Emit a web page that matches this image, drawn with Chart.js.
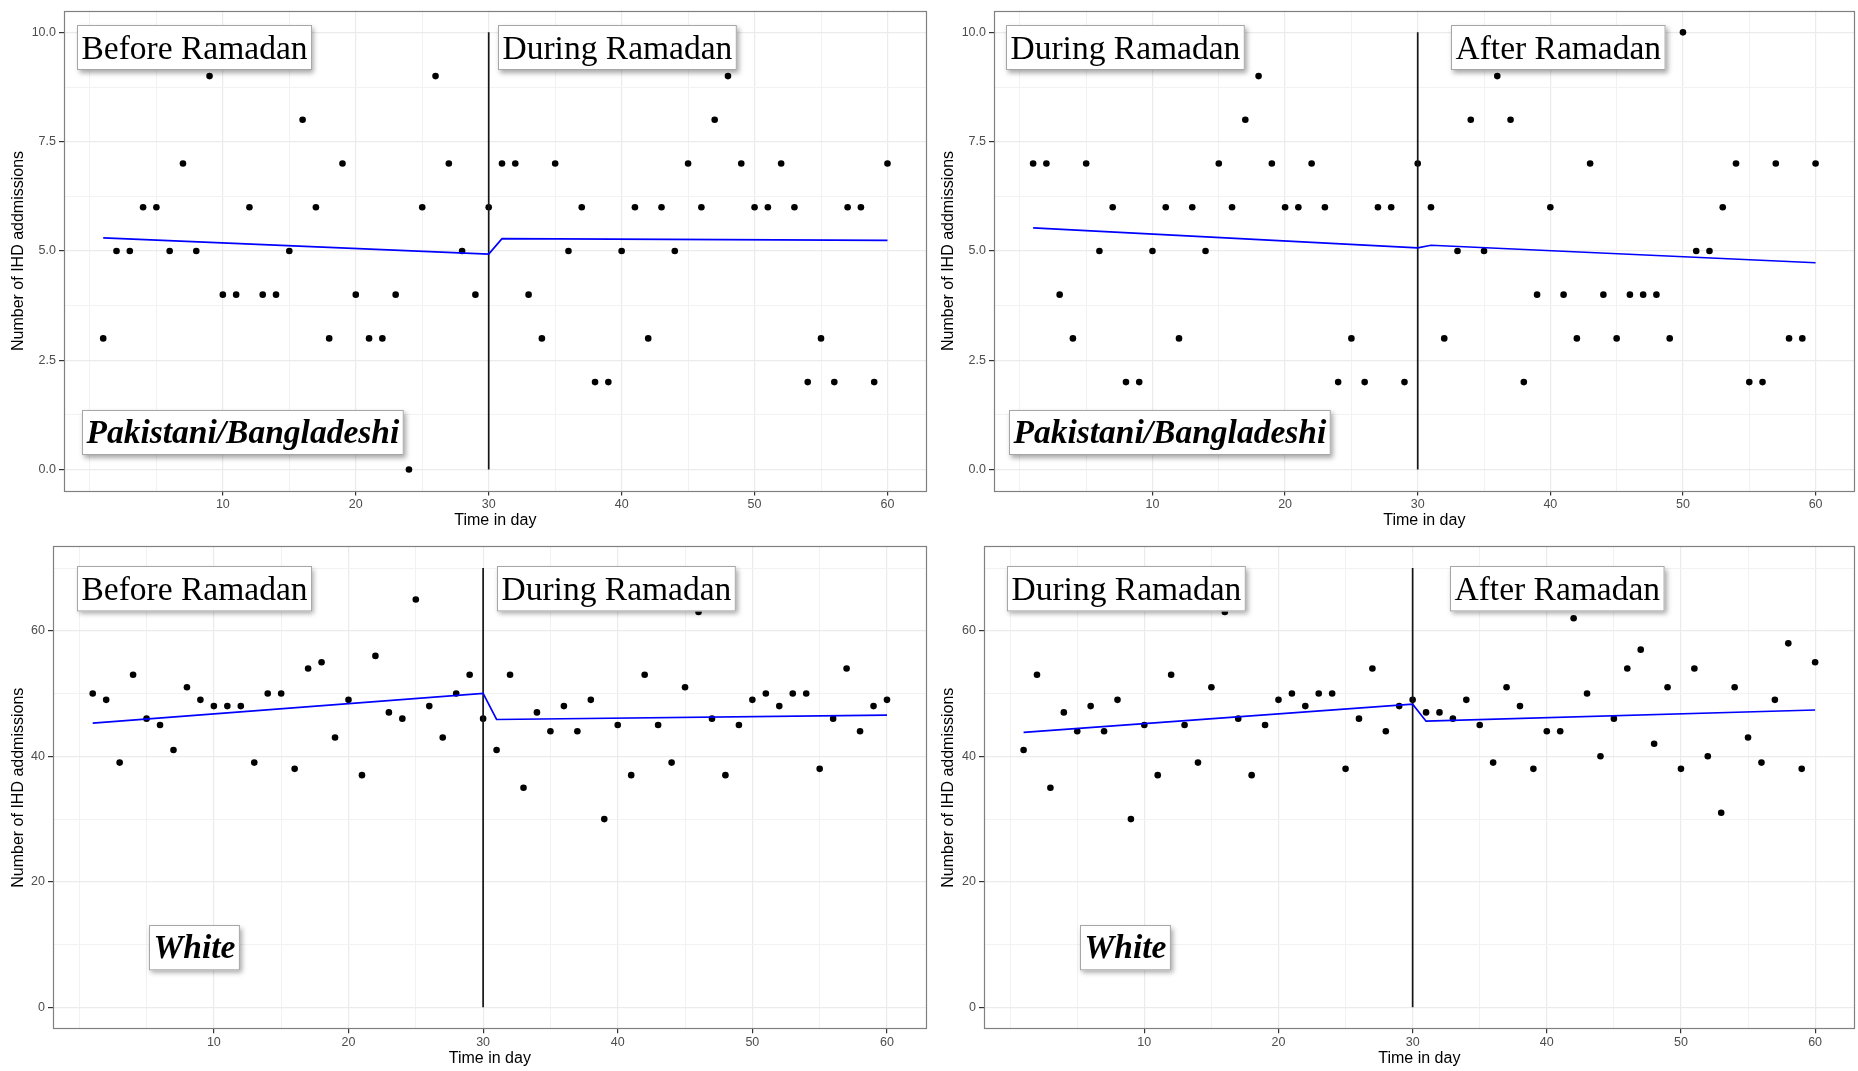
<!DOCTYPE html>
<html>
<head>
<meta charset="utf-8">
<script src="https://cdn.jsdelivr.net/npm/chart.js@4.4.1/dist/chart.umd.min.js"></script>
<style>
  html, body { margin: 0; padding: 0; background: #ffffff; }
  body { width: 1858px; height: 1071px; position: relative; overflow: hidden; }
  canvas { position: absolute; display: block; }
</style>
</head>
<body>
<canvas id="pakBD" width="930" height="535" style="left:0px;top:0px;width:930px;height:535px"></canvas>
<canvas id="pakDA" width="928" height="535" style="left:930px;top:0px;width:928px;height:535px"></canvas>
<canvas id="whiteBD" width="930" height="536" style="left:0px;top:535px;width:930px;height:536px"></canvas>
<canvas id="whiteDA" width="928" height="536" style="left:930px;top:535px;width:928px;height:536px"></canvas>
<script>
// Day index of each daily count (60-day windows, Ramadan boundary at day 30)
const days = [1, 2, 3, 4, 5, 6, 7, 8, 9, 10, 11, 12, 13, 14, 15, 16, 17, 18, 19, 20,
              21, 22, 23, 24, 25, 26, 27, 28, 29, 30, 31, 32, 33, 34, 35, 36, 37, 38, 39, 40,
              41, 42, 43, 44, 45, 46, 47, 48, 49, 50, 51, 52, 53, 54, 55, 56, 57, 58, 59, 60];

// Daily IHD admissions, Pakistani/Bangladeshi: before (1-30) and during (31-60) Ramadan
const pakBeforeDuring = [3, 5, 5, 6, 6, 5, 7, 5, 9, 4, 4, 6, 4, 4, 5, 8, 6, 3, 7, 4,
                         3, 3, 4, 0, 6, 9, 7, 5, 4, 6, 7, 7, 4, 3, 7, 5, 6, 2, 2, 5,
                         6, 3, 6, 5, 7, 6, 8, 9, 7, 6, 6, 7, 6, 2, 3, 2, 6, 6, 2, 7];
// Pakistani/Bangladeshi: during (1-30) and after (31-60) Ramadan
const pakDuringAfter = [7, 7, 4, 3, 7, 5, 6, 2, 2, 5, 6, 3, 6, 5, 7, 6, 8, 9, 7, 6,
                        6, 7, 6, 2, 3, 2, 6, 6, 2, 7, 6, 3, 5, 8, 5, 9, 8, 2, 4, 6,
                        4, 3, 7, 4, 3, 4, 4, 4, 3, 10, 5, 5, 6, 7, 2, 2, 7, 3, 3, 7];
// White: before (1-30) and during (31-60) Ramadan
const whiteBeforeDuring = [50, 49, 39, 53, 46, 45, 41, 51, 49, 48, 48, 48, 39, 50, 50, 38, 54, 55, 43, 49,
                           37, 56, 47, 46, 65, 48, 43, 50, 53, 46, 41, 53, 35, 47, 44, 48, 44, 49, 30, 45,
                           37, 53, 45, 39, 51, 63, 46, 37, 45, 49, 50, 48, 50, 50, 38, 46, 54, 44, 48, 49];
// White: during (1-30) and after (31-60) Ramadan
const whiteDuringAfter = [41, 53, 35, 47, 44, 48, 44, 49, 30, 45, 37, 53, 45, 39, 51, 63, 46, 37, 45, 49,
                          50, 48, 50, 50, 38, 46, 54, 44, 48, 49, 47, 47, 46, 49, 45, 39, 51, 48, 38, 44,
                          44, 62, 50, 40, 46, 54, 57, 42, 51, 38, 54, 40, 31, 51, 43, 39, 49, 58, 38, 55];

// Segmented regression fit: values at the start/end of each segment
const fitDays = [1, 30, 31, 60];
const pakBeforeDuringFit = [5.30, 4.93, 5.28, 5.24];
const pakDuringAfterFit = [5.53, 5.07, 5.13, 4.73];
const whiteBeforeDuringFit = [45.28, 50.03, 45.87, 46.57];
const whiteDuringAfterFit = [43.82, 48.30, 45.60, 47.38];

// Intervention marker (day 30) and its extent on each y scale
const breakDay = 30;
const pakBreakRange = [0, 10];
const whiteBreakRange = [0, 70];

// Axis ticks
const xGridValues = [0, 5, 10, 15, 20, 25, 30, 35, 40, 45, 50, 55, 60];
const xTickValues = [10, 20, 30, 40, 50, 60];
const xTickLabels = ['10', '20', '30', '40', '50', '60'];
const pakYGridValues = [0, 1.25, 2.5, 3.75, 5, 6.25, 7.5, 8.75, 10];
const pakYTickValues = [0, 2.5, 5, 7.5, 10];
const pakYTickLabels = ['0.0', '2.5', '5.0', '7.5', '10.0'];
const whiteYGridValues = [0, 10, 20, 30, 40, 50, 60, 70];
const whiteYTickValues = [0, 20, 40, 60];
const whiteYTickLabels = ['0', '20', '40', '60'];

// Period / group captions
const periodBefore = 'Before Ramadan';
const periodDuring = 'During Ramadan';
const periodAfter = 'After Ramadan';
const groupPak = 'Pakistani/Bangladeshi';
const groupWhite = 'White';

const SANS = '"Liberation Sans", Arial, Helvetica, sans-serif';
const SERIF = '"Liberation Serif", "Times New Roman", Times, serif';

// Frame around the plotting area
const panelBorder = {
  id: 'panelBorder',
  afterDraw(chart) {
    const { ctx, chartArea: a } = chart;
    ctx.save();
    ctx.strokeStyle = '#808080';
    ctx.lineWidth = 1.2;
    ctx.strokeRect(Math.round(a.left) + 0.5, Math.round(a.top) + 0.5,
                   Math.round(a.right - a.left) - 1, Math.round(a.bottom - a.top) - 1);
    ctx.restore();
  }
};

// Boxed captions placed in data coordinates, with a soft drop shadow
const boxedCaptions = {
  id: 'boxedCaptions',
  afterDatasetsDraw(chart, args, opts) {
    const { ctx } = chart;
    const xs = chart.scales.x, ys = chart.scales.y;
    (opts.items || []).forEach(it => {
      ctx.save();
      ctx.font = it.font;
      const tw = ctx.measureText(it.text).width;
      const w = tw + 2 * it.padX;
      const h = it.h;
      const cx = xs.getPixelForValue(it.x);
      const cy = ys.getPixelForValue(it.y);
      const left = Math.round(cx - w / 2), top = Math.round(cy - h / 2);
      ctx.shadowColor = 'rgba(0,0,0,0.35)';
      ctx.shadowBlur = 5;
      ctx.shadowOffsetX = 2;
      ctx.shadowOffsetY = 3;
      ctx.fillStyle = '#ffffff';
      ctx.fillRect(left, top, w, h);
      ctx.shadowColor = 'rgba(0,0,0,0)';
      ctx.strokeStyle = '#a6a6a6';
      ctx.lineWidth = 1;
      ctx.strokeRect(left + 0.5, top + 0.5, w - 1, h - 1);
      ctx.fillStyle = '#000000';
      ctx.textAlign = 'left';
      ctx.textBaseline = 'alphabetic';
      ctx.fillText(it.text, left + it.padX, top + it.base);
      ctx.restore();
    });
  }
};

function lookup(values, labels) {
  const m = new Map();
  values.forEach((v, i) => m.set(v, labels[i]));
  return m;
}

function makePanel(id, p) {
  const xLab = lookup(xTickValues, xTickLabels);
  const yLab = lookup(p.yTickValues, p.yTickLabels);
  const points = days.map((d, i) => ({ x: d, y: p.counts[i] }));
  const fit = fitDays.map((d, i) => ({ x: d, y: p.fit[i] }));
  const marker = p.breakRange.map(v => ({ x: breakDay, y: v }));
  const items = p.captions.map(c => ({
    text: c.text, x: c.x, y: c.y,
    font: (c.group ? 'italic bold ' : '') + '33.5px ' + SERIF,
    padX: 4.5, h: c.h, base: c.base
  }));

  return new Chart(document.getElementById(id), {
    data: {
      datasets: [
        { type: 'scatter', data: points, pointRadius: 3.3, pointBackgroundColor: '#000000',
          pointBorderWidth: 0, pointHoverRadius: 3.3, order: 3 },
        { type: 'line', data: marker, borderColor: '#151515', borderWidth: 1.7,
          pointRadius: 0, fill: false, tension: 0, order: 2 },
        { type: 'line', data: fit, borderColor: '#0000ff', borderWidth: 1.7,
          pointRadius: 0, fill: false, tension: 0, order: 1 }
      ]
    },
    options: {
      responsive: false,
      animation: false,
      devicePixelRatio: 1,
      layout: { padding: p.padding },
      plugins: {
        legend: { display: false },
        tooltip: { enabled: false },
        boxedCaptions: { items }
      },
      scales: {
        x: {
          type: 'linear',
          min: -1.95, max: 62.95,
          afterBuildTicks: s => { s.ticks = xGridValues.map(v => ({ value: v })); },
          afterFit: s => { s.height = p.xAxisH; },
          ticks: {
            autoSkip: false, maxRotation: 0, padding: 2,
            color: '#4d4d4d', font: { family: SANS, size: 12.5 },
            callback: v => xLab.has(v) ? xLab.get(v) : ''
          },
          grid: {
            drawTicks: true, tickLength: 4,
            color: c => (c.tick && xLab.has(c.tick.value)) ? '#ebebeb' : '#f2f2f2',
            lineWidth: c => (c.tick && xLab.has(c.tick.value)) ? 1.2 : 1,
            tickColor: c => (c.tick && xLab.has(c.tick.value)) ? '#333333' : 'rgba(0,0,0,0)',
            tickWidth: 1.2
          },
          border: { display: false },
          title: {
            display: true, text: 'Time in day', color: '#000000',
            font: { family: SANS, size: 16 },
            padding: { top: 0, bottom: p.xTitlePad }
          }
        },
        y: {
          type: 'linear',
          min: p.yMin, max: p.yMax,
          afterBuildTicks: s => { s.ticks = p.yGridValues.map(v => ({ value: v })); },
          afterFit: s => { s.width = p.yAxisW; },
          ticks: {
            autoSkip: false, padding: 3,
            color: '#4d4d4d', font: { family: SANS, size: 12.5 },
            callback: v => yLab.has(v) ? yLab.get(v) : ''
          },
          grid: {
            drawTicks: true, tickLength: 5,
            color: c => (c.tick && yLab.has(c.tick.value)) ? '#ebebeb' : '#f2f2f2',
            lineWidth: c => (c.tick && yLab.has(c.tick.value)) ? 1.2 : 1,
            tickColor: c => (c.tick && yLab.has(c.tick.value)) ? '#333333' : 'rgba(0,0,0,0)',
            tickWidth: 1.2
          },
          border: { display: false },
          title: {
            display: true, text: 'Number of IHD addmissions', color: '#000000',
            font: { family: SANS, size: 16 },
            padding: { top: 9.4, bottom: 0 }
          }
        }
      }
    },
    plugins: [panelBorder, boxedCaptions]
  });
}

const pakAxis = {
  yMin: -0.5, yMax: 10.5,
  yGridValues: pakYGridValues, yTickValues: pakYTickValues, yTickLabels: pakYTickLabels,
  breakRange: pakBreakRange, xAxisH: 43.6, xTitlePad: 4.7
};
const whiteAxis = {
  yMin: -3.5, yMax: 73.5,
  yGridValues: whiteYGridValues, yTickValues: whiteYTickValues, yTickLabels: whiteYTickLabels,
  breakRange: whiteBreakRange, xAxisH: 41.7, xTitlePad: 3.3
};

makePanel('pakBD', Object.assign({}, pakAxis, {
  counts: pakBeforeDuring, fit: pakBeforeDuringFit, yAxisW: 64,
  padding: { left: 0, top: 8.6, right: 3, bottom: 0 },
  captions: [
    { text: periodBefore, x: 7.88, y: 9.66, h: 45, base: 34 },
    { text: periodDuring, x: 39.66, y: 9.66, h: 45, base: 34 },
    { text: groupPak, x: 11.49, y: 0.847, h: 45, base: 32.5, group: true }
  ]
}));
makePanel('pakDA', Object.assign({}, pakAxis, {
  counts: pakDuringAfter, fit: pakDuringAfterFit, yAxisW: 64,
  padding: { left: 0, top: 8.6, right: 1, bottom: 0 },
  captions: [
    { text: periodDuring, x: 7.99, y: 9.66, h: 45, base: 34 },
    { text: periodAfter, x: 40.57, y: 9.66, h: 45, base: 34 },
    { text: groupPak, x: 11.33, y: 0.847, h: 45, base: 32.5, group: true }
  ]
}));
makePanel('whiteBD', Object.assign({}, whiteAxis, {
  counts: whiteBeforeDuring, fit: whiteBeforeDuringFit, yAxisW: 53,
  padding: { left: 0, top: 11.1, right: 3, bottom: 0 },
  captions: [
    { text: periodBefore, x: 8.55, y: 66.7, h: 45.4, base: 34 },
    { text: periodDuring, x: 39.93, y: 66.7, h: 45.4, base: 34 },
    { text: groupWhite, x: 8.55, y: 9.52, h: 45.3, base: 33, group: true }
  ]
}));
makePanel('whiteDA', Object.assign({}, whiteAxis, {
  counts: whiteDuringAfter, fit: whiteDuringAfterFit, yAxisW: 54,
  padding: { left: 0, top: 11.1, right: 1, bottom: 0 },
  captions: [
    { text: periodDuring, x: 8.63, y: 66.7, h: 45.4, base: 34 },
    { text: periodAfter, x: 40.79, y: 66.7, h: 45.4, base: 34 },
    { text: groupWhite, x: 8.63, y: 9.52, h: 45.3, base: 33, group: true }
  ]
}));
</script>
</body>
</html>
